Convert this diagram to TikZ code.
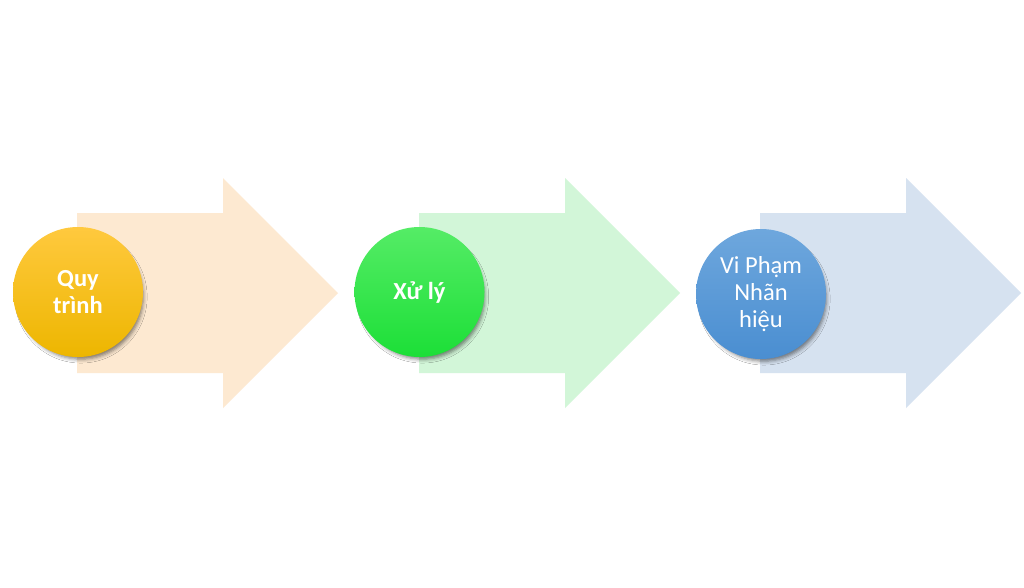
\documentclass[tikz,border=0pt]{standalone}
\usepackage{fontspec}
\setmainfont{Carlito}
\usetikzlibrary{shadows.blur}
\definecolor{arrA}{HTML}{FDE9D1}
\definecolor{arrB}{HTML}{D2F6D8}
\definecolor{arrC}{HTML}{D6E2F0}
\definecolor{ylwT}{HTML}{FFC93E}
\definecolor{ylwB}{HTML}{EDB600}
\definecolor{grnT}{HTML}{55EC66}
\definecolor{grnB}{HTML}{1CDF37}
\definecolor{bluT}{HTML}{6EA7DD}
\definecolor{bluB}{HTML}{4A8ED1}
\begin{document}
\begin{tikzpicture}[x=1pt,y=-1pt,
  bigarrow/.style={fill=#1,draw=none},
  ball/.style={circle,minimum size=130pt,inner sep=0pt,text=white,align=center,
    font=\fontsize{24.5}{27}\selectfont,
    blur shadow={shadow xshift=3pt,shadow yshift=-5pt,shadow scale=0.96,shadow blur radius=4pt,shadow opacity=50}},
]
\useasboundingbox (0,0) rectangle (1024,587);
\fill[white] (0,0) rectangle (1024,587);
% arrows
\foreach \x/\c in {77/arrA,419/arrB,760/arrC}{
  \path[bigarrow=\c] (\x,213) -- ++(146,0) -- ++(0,-35) -- ++(115,115) -- ++(-115,115) -- ++(0,-35) -- ++(-146,0) -- cycle;
}
% circles
\node[ball,top color=ylwT,bottom color=ylwB] (q) at (78,292) {\bfseries Quy\\\bfseries trình};
\node[ball,top color=grnT,bottom color=grnB] (x) at (419.5,292) {\bfseries Xử lý};
\node[ball,top color=bluT,bottom color=bluB] (v) at (761,294) {Vi Phạm\\Nhãn\\hiệu};
\end{tikzpicture}
\end{document}
